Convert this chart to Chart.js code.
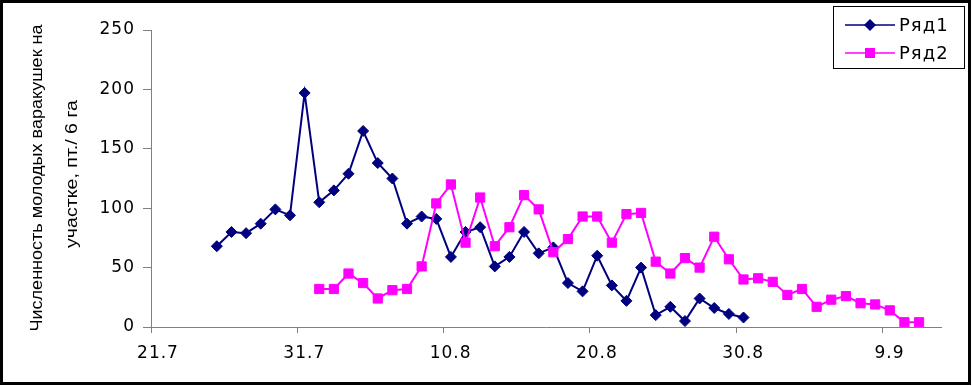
<!DOCTYPE html>
<html>
<head>
<meta charset="utf-8">
<title>Численность молодых варакушек</title>
<script src="https://cdn.jsdelivr.net/npm/chart.js@4.4.1/dist/chart.umd.min.js"></script>
<style>
  html, body { margin: 0; padding: 0; background: #fff; }
  canvas { display: block; }
</style>
</head>
<body>
<canvas id="chart" width="973" height="386"></canvas>
<script>
// Численность молодых варакушек на участке, два ряда учётов по дням

// x axis: one category per day from 21.7, a label every 10 days
const tickLabels = ['21.7', '31.7', '10.8', '20.8', '30.8', '9.9'];
const dayCount = 54;

// Ряд1 starts on day 4 (25.7)
const row1Start = 4;
const row1 = [68, 80, 79, 87, 99, 94, 197, 105, 115, 129, 165, 138, 125, 87, 93, 91, 59, 80, 84, 51,
              59, 80, 62, 67, 37, 30, 60, 35, 22, 50, 10, 17, 5, 24, 16, 11, 8];

// Ряд2 starts on day 11 (1.8)
const row2Start = 11;
const row2 = [32, 32, 45, 37, 24, 31, 32, 51, 104, 120, 71, 109, 68, 84, 111, 99, 63, 74, 93, 93,
              71, 95, 96, 55, 45, 58, 50, 76, 57, 40, 41, 38, 27, 32, 17, 23, 26, 20, 19, 14, 4, 4];

const yTitle = ['Численность молодых варакушек на', 'участке, пт./ 6 га'];

// points sit in the middle of their day
const toPoints = (start, values) => values.map((v, i) => ({ x: start + i + 0.5, y: v }));

const tickFont = { family: '"DejaVu Sans", sans-serif', size: 17 };
const axisGrey = '#808080';

// white page, title, legend box and the black frame round the whole chart
const excelDecor = {
    id: 'excelDecor',
    beforeDraw(chart) {
        const ctx = chart.ctx;
        ctx.save();
        ctx.fillStyle = '#fff';
        ctx.fillRect(0, 0, chart.width, chart.height);
        ctx.restore();
        ctx.letterSpacing = '1px';   // the reference numbers are drawn wide
    },
    afterDraw(chart) {
        const ctx = chart.ctx;
        ctx.letterSpacing = '0px';

        // rotated y title, two lines
        const lines = [
            { text: yTitle[0], x: 42, y: 178, len: 307 },
            { text: yTitle[1], x: 77, y: 174, len: 148 }
        ];
        ctx.save();
        ctx.font = '17px "Liberation Sans", Arial, sans-serif';
        ctx.fillStyle = '#000';
        ctx.textAlign = 'center';
        ctx.textBaseline = 'alphabetic';
        lines.forEach(l => {
            ctx.save();
            ctx.translate(l.x, l.y);
            ctx.rotate(-Math.PI / 2);
            const w = ctx.measureText(l.text).width;
            ctx.scale(l.len / w, 1);
            ctx.fillText(l.text, 0, 0);
            ctx.restore();
        });
        ctx.restore();

        // legend
        ctx.save();
        ctx.strokeStyle = '#000';
        ctx.lineWidth = 1;
        ctx.strokeRect(833.5, 6.5, 131, 62);
        chart.data.datasets.forEach((ds, i) => {
            const y = 25 + i * 28;
            ctx.strokeStyle = ds.borderColor;
            ctx.lineWidth = 1.5;
            ctx.beginPath();
            ctx.moveTo(845, y);
            ctx.lineTo(895, y);
            ctx.stroke();
            ctx.fillStyle = ds.borderColor;
            ctx.beginPath();
            if (ds.pointStyle === 'rectRot') {
                ctx.moveTo(870, y - 6);
                ctx.lineTo(876, y);
                ctx.lineTo(870, y + 6);
                ctx.lineTo(864, y);
                ctx.closePath();
            } else {
                ctx.rect(865, y - 5, 10, 10);
            }
            ctx.fill();
            ctx.letterSpacing = '1px';
            ctx.font = '18px "DejaVu Sans", sans-serif';
            ctx.fillStyle = '#000';
            ctx.textBaseline = 'alphabetic';
            ctx.textAlign = 'left';
            ctx.fillText(ds.label, 899, y + 6);
            ctx.letterSpacing = '0px';
        });
        ctx.restore();

        // outer frame
        ctx.save();
        ctx.strokeStyle = '#000';
        ctx.lineWidth = 3;
        ctx.strokeRect(1.5, 1.5, 968, 382);
        ctx.restore();
    }
};

new Chart(document.getElementById('chart'), {
    type: 'line',
    data: {
        datasets: [
            {
                label: 'Ряд1',
                data: toPoints(row1Start, row1),
                borderColor: '#000080',
                backgroundColor: '#000080',
                borderWidth: 2,
                pointStyle: 'rectRot',
                pointRadius: 5.5,
                pointBorderWidth: 1,
                pointBackgroundColor: '#000080',
                pointBorderColor: '#000080',
                tension: 0,
                order: 1
            },
            {
                label: 'Ряд2',
                data: toPoints(row2Start, row2),
                borderColor: '#FF00FF',
                backgroundColor: '#FF00FF',
                borderWidth: 2,
                pointStyle: 'rect',
                pointRadius: 6.5,
                pointBorderWidth: 1,
                pointBackgroundColor: '#FF00FF',
                pointBorderColor: '#FF00FF',
                tension: 0,
                order: 0
            }
        ]
    },
    options: {
        responsive: false,
        animation: false,
        events: [],
        layout: { padding: { left: 0, top: 30, right: 32, bottom: 0 } },
        plugins: {
            legend: { display: false },
            tooltip: { enabled: false }
        },
        scales: {
            x: {
                type: 'linear',
                min: 0,
                max: dayCount,
                afterBuildTicks: scale => {
                    scale.ticks = tickLabels.map((_, i) => ({ value: i * 10 }));
                },
                afterFit: scale => { scale.height = 59; },
                ticks: {
                    autoSkip: false,
                    maxRotation: 0,
                    color: '#000',
                    font: tickFont,
                    padding: 10,
                    labelOffset: 7,   // label sits over the day, tick between days
                    callback: (value, index) => tickLabels[index]
                },
                grid: { drawOnChartArea: false, tickLength: 6, color: axisGrey },
                border: { color: axisGrey, width: 1 }
            },
            y: {
                min: 0,
                max: 250,
                afterFit: scale => { scale.width = 151; },
                ticks: { stepSize: 50, color: '#000', font: tickFont, padding: 8 },
                grid: { drawOnChartArea: false, tickLength: 8, color: axisGrey },
                border: { color: axisGrey, width: 1 }
            }
        }
    },
    plugins: [excelDecor]
});
</script>
</body>
</html>
